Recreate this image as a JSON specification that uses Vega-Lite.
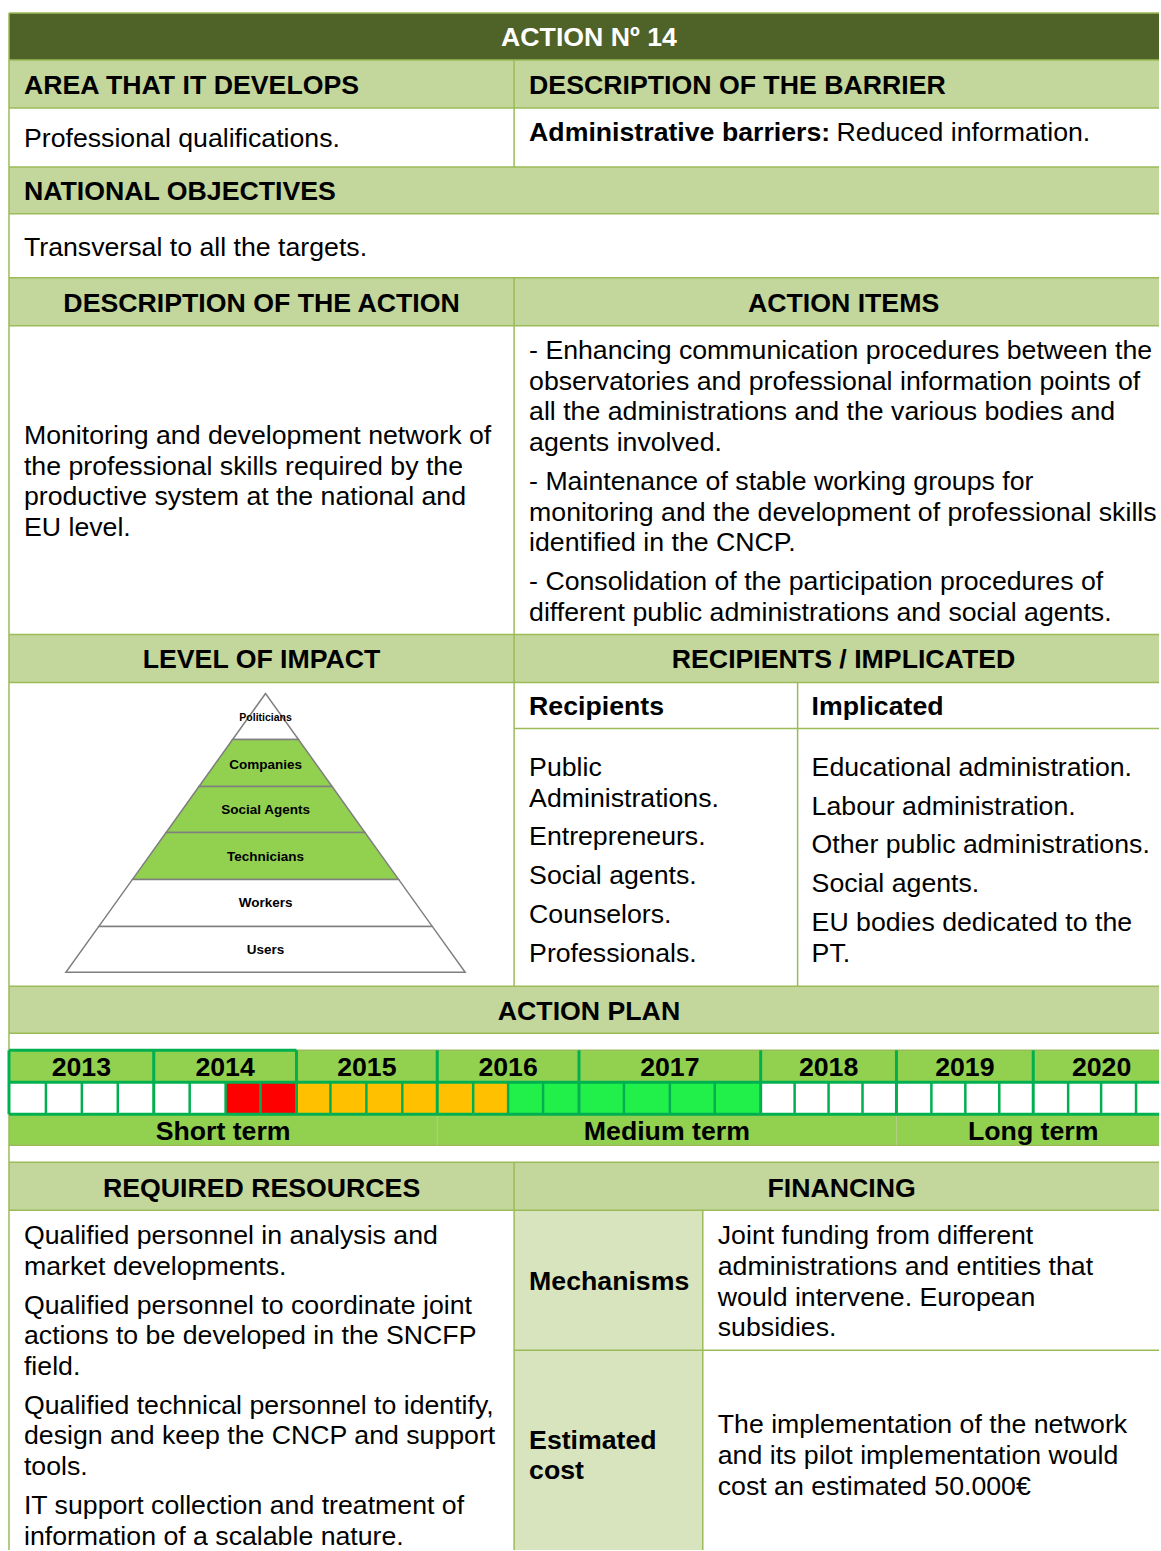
{
  "$schema": "https://vega.github.io/schema/vega-lite/v6.json",
  "width": 1161,
  "height": 1551,
  "autosize": {"type": "fit", "contains": "padding"},
  "padding": 0,
  "background": "#FFFFFF",
  "config": {"view": {"stroke": null}},
  "datasets": {
    "cells": [
      {"x": 9, "x2": 1161, "y": 13, "y2": 60, "kind": "title"},
      {"x": 9, "x2": 1161, "y": 60, "y2": 108, "kind": "head"},
      {"x": 9, "x2": 1161, "y": 167, "y2": 214, "kind": "head"},
      {"x": 9, "x2": 1161, "y": 278, "y2": 326, "kind": "head"},
      {"x": 9, "x2": 1161, "y": 635, "y2": 683, "kind": "head"},
      {"x": 9, "x2": 1161, "y": 987, "y2": 1034, "kind": "head"},
      {"x": 9, "x2": 1161, "y": 1051, "y2": 1083, "kind": "bright"},
      {"x": 9, "x2": 1161, "y": 1115, "y2": 1146, "kind": "bright"},
      {"x": 9, "x2": 1161, "y": 1163, "y2": 1211, "kind": "head"},
      {"x": 515, "x2": 704, "y": 1211, "y2": 1551, "kind": "sub"},
      {"x": 9, "x2": 46, "y": 1083, "y2": 1115, "kind": "none"},
      {"x": 46, "x2": 82, "y": 1083, "y2": 1115, "kind": "none"},
      {"x": 82, "x2": 118, "y": 1083, "y2": 1115, "kind": "none"},
      {"x": 118, "x2": 154, "y": 1083, "y2": 1115, "kind": "none"},
      {"x": 154, "x2": 190, "y": 1083, "y2": 1115, "kind": "none"},
      {"x": 190, "x2": 226, "y": 1083, "y2": 1115, "kind": "none"},
      {"x": 226, "x2": 261, "y": 1083, "y2": 1115, "kind": "red"},
      {"x": 261, "x2": 297, "y": 1083, "y2": 1115, "kind": "red"},
      {"x": 297, "x2": 331, "y": 1083, "y2": 1115, "kind": "orange"},
      {"x": 331, "x2": 367, "y": 1083, "y2": 1115, "kind": "orange"},
      {"x": 367, "x2": 403, "y": 1083, "y2": 1115, "kind": "orange"},
      {"x": 403, "x2": 438, "y": 1083, "y2": 1115, "kind": "orange"},
      {"x": 438, "x2": 474, "y": 1083, "y2": 1115, "kind": "orange"},
      {"x": 474, "x2": 509, "y": 1083, "y2": 1115, "kind": "orange"},
      {"x": 509, "x2": 544, "y": 1083, "y2": 1115, "kind": "green"},
      {"x": 544, "x2": 580, "y": 1083, "y2": 1115, "kind": "green"},
      {"x": 580, "x2": 625, "y": 1083, "y2": 1115, "kind": "green"},
      {"x": 625, "x2": 671, "y": 1083, "y2": 1115, "kind": "green"},
      {"x": 671, "x2": 716, "y": 1083, "y2": 1115, "kind": "green"},
      {"x": 716, "x2": 762, "y": 1083, "y2": 1115, "kind": "green"},
      {"x": 762, "x2": 796, "y": 1083, "y2": 1115, "kind": "none"},
      {"x": 796, "x2": 830, "y": 1083, "y2": 1115, "kind": "none"},
      {"x": 830, "x2": 864, "y": 1083, "y2": 1115, "kind": "none"},
      {"x": 864, "x2": 898, "y": 1083, "y2": 1115, "kind": "none"},
      {"x": 898, "x2": 933, "y": 1083, "y2": 1115, "kind": "none"},
      {"x": 933, "x2": 967, "y": 1083, "y2": 1115, "kind": "none"},
      {"x": 967, "x2": 1001, "y": 1083, "y2": 1115, "kind": "none"},
      {"x": 1001, "x2": 1035, "y": 1083, "y2": 1115, "kind": "none"},
      {"x": 1035, "x2": 1070, "y": 1083, "y2": 1115, "kind": "none"},
      {"x": 1070, "x2": 1103, "y": 1083, "y2": 1115, "kind": "none"},
      {"x": 1103, "x2": 1138, "y": 1083, "y2": 1115, "kind": "none"},
      {"x": 1138, "x2": 1161, "y": 1083, "y2": 1115, "kind": "none"}
    ],
    "lines": [
      {"x": 9, "x2": 1161, "y": 13, "y2": 13, "kind": "thin"},
      {"x": 9, "x2": 1161, "y": 60, "y2": 60, "kind": "thin"},
      {"x": 9, "x2": 1161, "y": 108, "y2": 108, "kind": "thin"},
      {"x": 9, "x2": 1161, "y": 167, "y2": 167, "kind": "thin"},
      {"x": 9, "x2": 1161, "y": 214, "y2": 214, "kind": "thin"},
      {"x": 9, "x2": 1161, "y": 278, "y2": 278, "kind": "thin"},
      {"x": 9, "x2": 1161, "y": 326, "y2": 326, "kind": "thin"},
      {"x": 9, "x2": 1161, "y": 635, "y2": 635, "kind": "thin"},
      {"x": 9, "x2": 1161, "y": 683, "y2": 683, "kind": "thin"},
      {"x": 515, "x2": 1161, "y": 729, "y2": 729, "kind": "thin"},
      {"x": 9, "x2": 1161, "y": 987, "y2": 987, "kind": "thin"},
      {"x": 9, "x2": 1161, "y": 1034, "y2": 1034, "kind": "thin"},
      {"x": 9, "x2": 1161, "y": 1051, "y2": 1051, "kind": "thin"},
      {"x": 9, "x2": 1161, "y": 1146, "y2": 1146, "kind": "thin"},
      {"x": 9, "x2": 1161, "y": 1163, "y2": 1163, "kind": "thin"},
      {"x": 9, "x2": 1161, "y": 1211, "y2": 1211, "kind": "thin"},
      {"x": 515, "x2": 1161, "y": 1351, "y2": 1351, "kind": "thin"},
      {"x": 9, "x2": 9, "y": 13, "y2": 1551, "kind": "thin"},
      {"x": 515, "x2": 515, "y": 60, "y2": 167, "kind": "thin"},
      {"x": 515, "x2": 515, "y": 278, "y2": 987, "kind": "thin"},
      {"x": 515, "x2": 515, "y": 1163, "y2": 1551, "kind": "thin"},
      {"x": 799, "x2": 799, "y": 683, "y2": 987, "kind": "thin"},
      {"x": 704, "x2": 704, "y": 1211, "y2": 1551, "kind": "thin"},
      {"x": 438, "x2": 438, "y": 1115, "y2": 1146, "kind": "faint"},
      {"x": 898, "x2": 898, "y": 1115, "y2": 1146, "kind": "faint"},
      {"x": 9, "x2": 297, "y": 1051, "y2": 1051, "kind": "thick"},
      {"x": 9, "x2": 1161, "y": 1083, "y2": 1083, "kind": "thick"},
      {"x": 9, "x2": 1161, "y": 1115, "y2": 1115, "kind": "thick"},
      {"x": 9, "x2": 9, "y": 1051, "y2": 1115, "kind": "thick"},
      {"x": 154, "x2": 154, "y": 1051, "y2": 1115, "kind": "thick"},
      {"x": 297, "x2": 297, "y": 1051, "y2": 1115, "kind": "thick"},
      {"x": 438, "x2": 438, "y": 1051, "y2": 1115, "kind": "thick"},
      {"x": 580, "x2": 580, "y": 1051, "y2": 1115, "kind": "thick"},
      {"x": 762, "x2": 762, "y": 1051, "y2": 1115, "kind": "thick"},
      {"x": 898, "x2": 898, "y": 1051, "y2": 1115, "kind": "thick"},
      {"x": 1035, "x2": 1035, "y": 1051, "y2": 1115, "kind": "thick"},
      {"x": 46, "x2": 46, "y": 1083, "y2": 1115, "kind": "quarter"},
      {"x": 82, "x2": 82, "y": 1083, "y2": 1115, "kind": "quarter"},
      {"x": 118, "x2": 118, "y": 1083, "y2": 1115, "kind": "quarter"},
      {"x": 190, "x2": 190, "y": 1083, "y2": 1115, "kind": "quarter"},
      {"x": 226, "x2": 226, "y": 1083, "y2": 1115, "kind": "quarter"},
      {"x": 261, "x2": 261, "y": 1083, "y2": 1115, "kind": "quarter"},
      {"x": 331, "x2": 331, "y": 1083, "y2": 1115, "kind": "quarter"},
      {"x": 367, "x2": 367, "y": 1083, "y2": 1115, "kind": "quarter"},
      {"x": 403, "x2": 403, "y": 1083, "y2": 1115, "kind": "quarter"},
      {"x": 474, "x2": 474, "y": 1083, "y2": 1115, "kind": "quarter"},
      {"x": 509, "x2": 509, "y": 1083, "y2": 1115, "kind": "quarter"},
      {"x": 544, "x2": 544, "y": 1083, "y2": 1115, "kind": "quarter"},
      {"x": 625, "x2": 625, "y": 1083, "y2": 1115, "kind": "quarter"},
      {"x": 671, "x2": 671, "y": 1083, "y2": 1115, "kind": "quarter"},
      {"x": 716, "x2": 716, "y": 1083, "y2": 1115, "kind": "quarter"},
      {"x": 796, "x2": 796, "y": 1083, "y2": 1115, "kind": "quarter"},
      {"x": 830, "x2": 830, "y": 1083, "y2": 1115, "kind": "quarter"},
      {"x": 864, "x2": 864, "y": 1083, "y2": 1115, "kind": "quarter"},
      {"x": 933, "x2": 933, "y": 1083, "y2": 1115, "kind": "quarter"},
      {"x": 967, "x2": 967, "y": 1083, "y2": 1115, "kind": "quarter"},
      {"x": 1001, "x2": 1001, "y": 1083, "y2": 1115, "kind": "quarter"},
      {"x": 1070, "x2": 1070, "y": 1083, "y2": 1115, "kind": "quarter"},
      {"x": 1103, "x2": 1103, "y": 1083, "y2": 1115, "kind": "quarter"},
      {"x": 1138, "x2": 1138, "y": 1083, "y2": 1115, "kind": "quarter"}
    ],
    "pyramid": [
      {"level": "Politicians", "band": "pwhite", "x": 266, "x2": 266, "y": 694},
      {"level": "Politicians", "band": "pwhite", "x": 233, "x2": 299, "y": 740},
      {"level": "Companies", "band": "pgreen", "x": 233, "x2": 299, "y": 740},
      {"level": "Companies", "band": "pgreen", "x": 199.3, "x2": 332.7, "y": 787},
      {"level": "Social Agents", "band": "pgreen", "x": 199.3, "x2": 332.7, "y": 787},
      {"level": "Social Agents", "band": "pgreen", "x": 166.4, "x2": 365.6, "y": 833},
      {"level": "Technicians", "band": "pgreen", "x": 166.4, "x2": 365.6, "y": 833},
      {"level": "Technicians", "band": "pgreen", "x": 132.7, "x2": 399.3, "y": 880},
      {"level": "Workers", "band": "pwhite", "x": 132.7, "x2": 399.3, "y": 880},
      {"level": "Workers", "band": "pwhite", "x": 99, "x2": 433, "y": 927},
      {"level": "Users", "band": "pwhite", "x": 99, "x2": 433, "y": 927},
      {"level": "Users", "band": "pwhite", "x": 66, "x2": 466, "y": 973}
    ],
    "texts": [
      {"x": 590, "y": 37, "text": "ACTION Nº 14", "role": "title"},
      {"x": 24, "y": 85, "text": "AREA THAT IT DEVELOPS", "role": "headL"},
      {"x": 530, "y": 85, "text": "DESCRIPTION OF THE BARRIER", "role": "headL"},
      {"x": 24, "y": 138, "text": "Professional qualifications.", "role": "body"},
      {"x": 530, "y": 132, "text": "Administrative barriers:", "role": "headL"},
      {"x": 838, "y": 132, "text": "Reduced information.", "role": "body"},
      {"x": 24, "y": 191, "text": "NATIONAL OBJECTIVES", "role": "headL"},
      {"x": 24, "y": 247, "text": "Transversal to all the targets.", "role": "body"},
      {"x": 262, "y": 303, "text": "DESCRIPTION OF THE ACTION", "role": "headC"},
      {"x": 845, "y": 303, "text": "ACTION ITEMS", "role": "headC"},
      {"x": 24, "y": 435, "text": "Monitoring and development network of", "role": "body"},
      {"x": 24, "y": 466, "text": "the professional skills required by the", "role": "body"},
      {"x": 24, "y": 496, "text": "productive system at the national and", "role": "body"},
      {"x": 24, "y": 527, "text": "EU level.", "role": "body"},
      {"x": 530, "y": 350, "text": "- Enhancing communication procedures between the", "role": "body"},
      {"x": 530, "y": 381, "text": "observatories and professional information points of", "role": "body"},
      {"x": 530, "y": 411, "text": "all the administrations and the various bodies and", "role": "body"},
      {"x": 530, "y": 442, "text": "agents involved.", "role": "body"},
      {"x": 530, "y": 481, "text": "- Maintenance of stable working groups for", "role": "body"},
      {"x": 530, "y": 512, "text": "monitoring and the development of professional skills", "role": "body"},
      {"x": 530, "y": 542, "text": "identified in the CNCP.", "role": "body"},
      {"x": 530, "y": 581, "text": "- Consolidation of the participation procedures of", "role": "body"},
      {"x": 530, "y": 612, "text": "different public administrations and social agents.", "role": "body"},
      {"x": 262, "y": 659, "text": "LEVEL OF IMPACT", "role": "headC"},
      {"x": 845, "y": 659, "text": "RECIPIENTS / IMPLICATED", "role": "headC"},
      {"x": 530, "y": 706, "text": "Recipients", "role": "headL"},
      {"x": 813, "y": 706, "text": "Implicated", "role": "headL"},
      {"x": 530, "y": 767, "text": "Public", "role": "body"},
      {"x": 530, "y": 798, "text": "Administrations.", "role": "body"},
      {"x": 530, "y": 836, "text": "Entrepreneurs.", "role": "body"},
      {"x": 530, "y": 875, "text": "Social agents.", "role": "body"},
      {"x": 530, "y": 914, "text": "Counselors.", "role": "body"},
      {"x": 530, "y": 953, "text": "Professionals.", "role": "body"},
      {"x": 813, "y": 767, "text": "Educational administration.", "role": "body"},
      {"x": 813, "y": 806, "text": "Labour administration.", "role": "body"},
      {"x": 813, "y": 844, "text": "Other public administrations.", "role": "body"},
      {"x": 813, "y": 883, "text": "Social agents.", "role": "body"},
      {"x": 813, "y": 922, "text": "EU bodies dedicated to the", "role": "body"},
      {"x": 813, "y": 953, "text": "PT.", "role": "body"},
      {"x": 266, "y": 717, "text": "Politicians", "role": "pyrS"},
      {"x": 266, "y": 764, "text": "Companies", "role": "pyr"},
      {"x": 266, "y": 810, "text": "Social Agents", "role": "pyr"},
      {"x": 266, "y": 857, "text": "Technicians", "role": "pyr"},
      {"x": 266, "y": 903, "text": "Workers", "role": "pyr"},
      {"x": 266, "y": 950, "text": "Users", "role": "pyr"},
      {"x": 590, "y": 1011, "text": "ACTION PLAN", "role": "headC"},
      {"x": 81.5, "y": 1067, "text": "2013", "role": "headC"},
      {"x": 225.5, "y": 1067, "text": "2014", "role": "headC"},
      {"x": 367.5, "y": 1067, "text": "2015", "role": "headC"},
      {"x": 509, "y": 1067, "text": "2016", "role": "headC"},
      {"x": 671, "y": 1067, "text": "2017", "role": "headC"},
      {"x": 830, "y": 1067, "text": "2018", "role": "headC"},
      {"x": 966.5, "y": 1067, "text": "2019", "role": "headC"},
      {"x": 1103.5, "y": 1067, "text": "2020", "role": "headC"},
      {"x": 223.5, "y": 1131, "text": "Short term", "role": "headC"},
      {"x": 668, "y": 1131, "text": "Medium term", "role": "headC"},
      {"x": 1035, "y": 1131, "text": "Long term", "role": "headC"},
      {"x": 262, "y": 1188, "text": "REQUIRED RESOURCES", "role": "headC"},
      {"x": 843, "y": 1188, "text": "FINANCING", "role": "headC"},
      {"x": 24, "y": 1235, "text": "Qualified personnel in analysis and", "role": "body"},
      {"x": 24, "y": 1266, "text": "market developments.", "role": "body"},
      {"x": 24, "y": 1305, "text": "Qualified personnel to coordinate joint", "role": "body"},
      {"x": 24, "y": 1335, "text": "actions to be developed in the SNCFP", "role": "body"},
      {"x": 24, "y": 1366, "text": "field.", "role": "body"},
      {"x": 24, "y": 1405, "text": "Qualified technical personnel to identify,", "role": "body"},
      {"x": 24, "y": 1435, "text": "design and keep the CNCP and support", "role": "body"},
      {"x": 24, "y": 1466, "text": "tools.", "role": "body"},
      {"x": 24, "y": 1505, "text": "IT support collection and treatment of", "role": "body"},
      {"x": 24, "y": 1536, "text": "information of a scalable nature.", "role": "body"},
      {"x": 530, "y": 1281, "text": "Mechanisms", "role": "headL"},
      {"x": 719, "y": 1235, "text": "Joint funding from different", "role": "body"},
      {"x": 719, "y": 1266, "text": "administrations and entities that", "role": "body"},
      {"x": 719, "y": 1297, "text": "would intervene. European", "role": "body"},
      {"x": 719, "y": 1327, "text": "subsidies.", "role": "body"},
      {"x": 530, "y": 1440, "text": "Estimated", "role": "headL"},
      {"x": 530, "y": 1470, "text": "cost", "role": "headL"},
      {"x": 719, "y": 1424, "text": "The implementation of the network", "role": "body"},
      {"x": 719, "y": 1455, "text": "and its pilot implementation would", "role": "body"},
      {"x": 719, "y": 1486, "text": "cost an estimated 50.000€", "role": "body"}
    ]
  },
  "encoding": {
    "x": {"field": "x", "type": "quantitative", "scale": {"domain": [0, 1161], "nice": false, "zero": false}, "axis": null},
    "y": {"field": "y", "type": "quantitative", "scale": {"domain": [0, 1551], "nice": false, "zero": false, "reverse": true}, "axis": null}
  },
  "layer": [
    {
      "data": {"name": "cells"},
      "mark": {"type": "rect", "strokeWidth": 0},
      "encoding": {
        "x2": {"field": "x2"},
        "y2": {"field": "y2"},
        "color": {"field": "kind", "type": "nominal", "legend": null,
          "scale": {"domain": ["title", "head", "sub", "bright", "none", "red", "orange", "green", "pgreen", "pwhite"],
                    "range": ["#4F6228", "#C3D69B", "#D7E4BD", "#92D050", "#FFFFFF", "#FF0000", "#FFC000", "#22F04A", "#92D050", "#FFFFFF"]}}
      }
    },
    {
      "data": {"name": "pyramid"},
      "mark": {"type": "area", "orient": "horizontal", "stroke": "#7F7F7F", "strokeWidth": 1.5, "opacity": 1, "fillOpacity": 1},
      "encoding": {
        "x2": {"field": "x2"},
        "detail": {"field": "level", "type": "nominal"},
        "color": {"field": "band", "type": "nominal", "legend": null,
          "scale": {"domain": ["title", "head", "sub", "bright", "none", "red", "orange", "green", "pgreen", "pwhite"],
                    "range": ["#4F6228", "#C3D69B", "#D7E4BD", "#92D050", "#FFFFFF", "#FF0000", "#FFC000", "#22F04A", "#92D050", "#FFFFFF"]}}
      }
    },
    {
      "data": {"name": "lines"},
      "transform": [{"filter": "datum.kind === 'thin'"}],
      "mark": {"type": "rule", "color": "#9BBB59", "strokeWidth": 1.5},
      "encoding": {"x2": {"field": "x2"}, "y2": {"field": "y2"}}
    },
    {
      "data": {"name": "lines"},
      "transform": [{"filter": "datum.kind === 'faint'"}],
      "mark": {"type": "rule", "color": "#B5CC85", "strokeWidth": 1},
      "encoding": {"x2": {"field": "x2"}, "y2": {"field": "y2"}}
    },
    {
      "data": {"name": "lines"},
      "transform": [{"filter": "datum.kind === 'quarter'"}],
      "mark": {"type": "rule", "color": "#00B050", "strokeWidth": 2.5},
      "encoding": {"x2": {"field": "x2"}, "y2": {"field": "y2"}}
    },
    {
      "data": {"name": "lines"},
      "transform": [{"filter": "datum.kind === 'thick'"}],
      "mark": {"type": "rule", "color": "#00B050", "strokeWidth": 3},
      "encoding": {"x2": {"field": "x2"}, "y2": {"field": "y2"}}
    },
    {
      "data": {"name": "texts"},
      "transform": [{"filter": "datum.role === 'title'"}],
      "mark": {"type": "text", "align": "center", "baseline": "middle", "dy": 1.5, "font": "Liberation Sans", "fontSize": 26.7, "fontWeight": "bold", "color": "#FFFFFF"},
      "encoding": {"text": {"field": "text"}}
    },
    {
      "data": {"name": "texts"},
      "transform": [{"filter": "datum.role === 'headL'"}],
      "mark": {"type": "text", "align": "left", "baseline": "middle", "dy": 1.5, "font": "Liberation Sans", "fontSize": 26.7, "fontWeight": "bold", "color": "#000000"},
      "encoding": {"text": {"field": "text"}}
    },
    {
      "data": {"name": "texts"},
      "transform": [{"filter": "datum.role === 'headC'"}],
      "mark": {"type": "text", "align": "center", "baseline": "middle", "dy": 1.5, "font": "Liberation Sans", "fontSize": 26.7, "fontWeight": "bold", "color": "#000000"},
      "encoding": {"text": {"field": "text"}}
    },
    {
      "data": {"name": "texts"},
      "transform": [{"filter": "datum.role === 'body'"}],
      "mark": {"type": "text", "align": "left", "baseline": "middle", "dy": 1.5, "font": "Liberation Sans", "fontSize": 26.7, "color": "#000000"},
      "encoding": {"text": {"field": "text"}}
    },
    {
      "data": {"name": "texts"},
      "transform": [{"filter": "datum.role === 'pyr'"}],
      "mark": {"type": "text", "align": "center", "baseline": "middle", "dy": 1, "font": "Liberation Sans", "fontSize": 13.5, "fontWeight": "bold", "color": "#000000"},
      "encoding": {"text": {"field": "text"}}
    },
    {
      "data": {"name": "texts"},
      "transform": [{"filter": "datum.role === 'pyrS'"}],
      "mark": {"type": "text", "align": "center", "baseline": "middle", "dy": 1, "font": "Liberation Sans", "fontSize": 10.5, "fontWeight": "bold", "color": "#000000"},
      "encoding": {"text": {"field": "text"}}
    }
  ]
}
